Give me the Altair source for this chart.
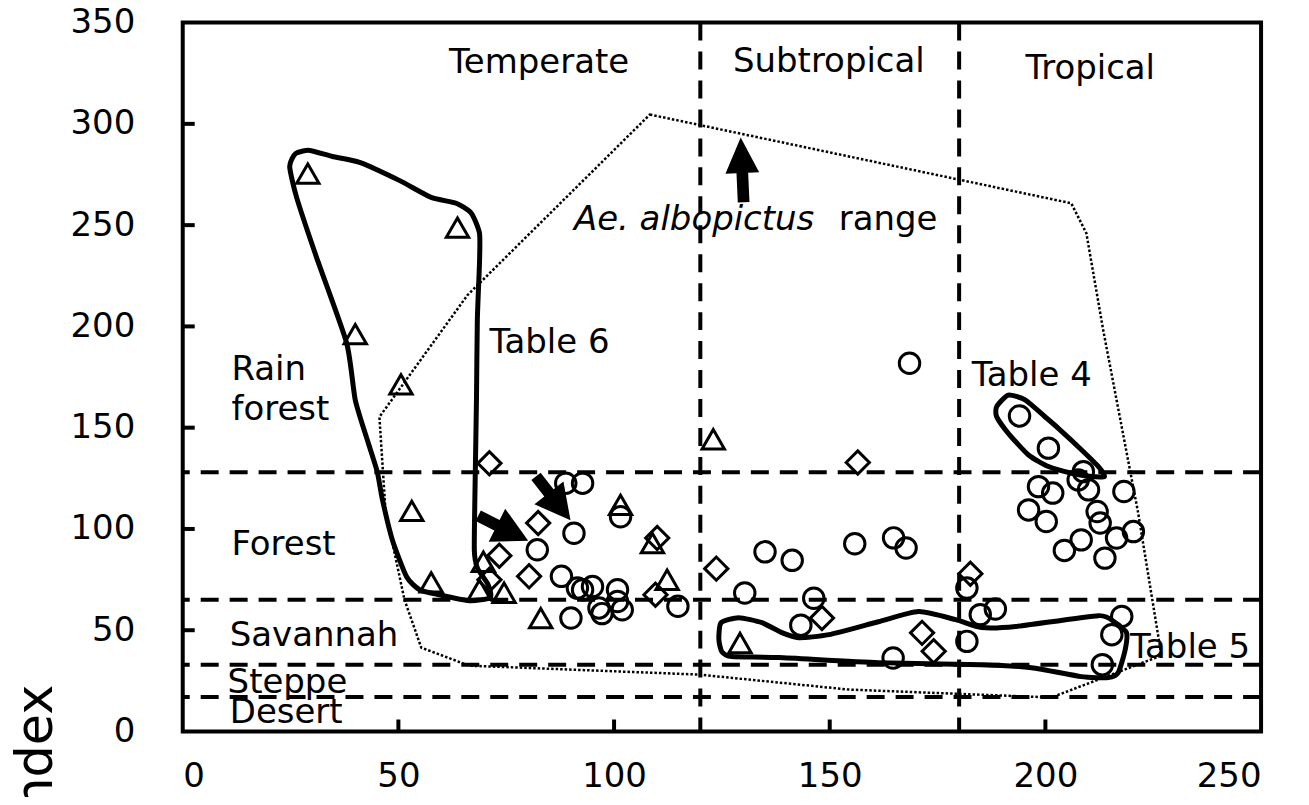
import altair as alt
import pandas as pd

FONT = "DejaVu Sans"

# axis ticks
x_ticks = [0, 50, 100, 150, 200, 250]
y_ticks = [0, 50, 100, 150, 200, 250, 300, 350]
inner_x_ticks = [50, 100, 150, 200]
inner_y_ticks = [50, 100, 150, 200, 250, 300]

# vegetation zone boundaries (horizontal) and climate boundaries (vertical)
zone_lines_y = [128, 65, 33, 17]
climate_lines_x = [120, 180]

# triangles
tri_x = [29.0, 63.7, 40.0, 50.6, 53.1, 57.6, 68.8, 69.7, 74.5, 101.5, 108.9, 112.3, 83.0, 123.0, 129.2]
tri_y = [275.4, 248.8, 196.2, 171.4, 108.9, 73.6, 70.0, 83.8, 68.5, 111.9, 93.0, 74.9, 56.0, 144.3, 43.7]

# diamonds
dia_x = [71.1, 82.4, 73.4, 71.1, 80.3, 110.0, 109.6, 156.5, 123.7, 148.2, 171.4, 174.1, 182.6]
dia_y = [132.4, 102.9, 86.8, 74.9, 76.6, 95.5, 67.5, 132.8, 80.4, 56.0, 48.7, 39.6, 77.9]

# circles
cir_x = [88.8, 92.7, 90.7, 82.2, 101.5, 87.8, 91.5, 95.0, 92.7, 100.8, 100.8, 96.5, 97.2, 101.9, 90.0,
         114.8, 130.3, 135.0, 141.3, 146.3, 143.3, 155.8, 164.8, 167.7, 164.7, 168.5,
         194.0, 200.7, 208.8, 207.6, 198.4, 201.7, 210.0, 218.2, 196.1, 200.2, 212.0, 212.7,
         208.3, 204.4, 216.5, 220.4, 213.8, 181.8, 184.9, 188.4, 181.8, 217.7, 215.4, 213.2]
cir_y = [122.6, 122.6, 97.9, 89.7, 106.0, 76.6, 70.8, 71.6, 70.0, 70.0, 64.2, 61.0, 58.2, 60.1, 56.0,
         61.8, 68.4, 88.7, 84.5, 65.8, 52.5, 92.7, 95.6, 90.6, 36.3, 181.8,
         155.8, 139.9, 128.3, 124.2, 120.9, 117.7, 119.3, 118.5, 109.4, 103.7, 108.6, 102.9,
         94.6, 89.4, 95.5, 98.7, 85.6, 70.8, 57.7, 60.5, 44.5, 56.8, 47.8, 33.0]

# Table 6 envelope
t6_x = [24.8, 26.2, 29.4, 34.7, 41.0, 50.2, 57.6, 63.4, 66.9, 68.8, 68.8, 68.3, 68.1, 67.8, 67.6,
        68.3, 70.8, 71.3, 66.4, 59.5, 54.9, 51.9, 48.6, 46.3, 45.1, 42.8, 40.0, 38.0, 31.0, 26.4]
t6_y = [279.0, 285.4, 286.9, 283.9, 281.0, 272.1, 263.7, 260.8, 255.9, 246.0, 231.2, 203.1, 163.7, 124.2, 89.7,
        80.8, 72.5, 66.1, 64.6, 67.5, 70.0, 76.4, 94.6, 114.4, 128.2, 143.9, 163.7, 191.8, 234.2, 263.7]

# Table 4 envelope
t4_x = [188.7, 191.4, 195.3, 199.9, 203.0, 208.4, 212.3, 213.7, 210.7, 206.1, 200.7, 196.1, 191.4, 188.7]
t4_y = [160.4, 166.1, 163.7, 155.4, 149.7, 139.0, 130.8, 125.9, 125.9, 127.5, 130.8, 136.5, 147.2, 155.4]

# Table 5 envelope
t5_x = [124.8, 128.9, 134.3, 138.9, 142.8, 149.8, 161.3, 170.6, 179.2, 185.2, 193.1, 212.3, 216.2, 218.8,
        218.5, 216.9, 214.6, 208.3, 196.8, 185.2, 161.3, 138.2, 127.3, 125.0, 124.3]
t5_y = [53.7, 56.2, 53.7, 48.8, 46.3, 47.8, 54.2, 59.2, 55.2, 51.3, 51.8, 57.2, 53.7, 48.8,
        40.4, 29.1, 26.6, 27.1, 31.5, 33.0, 34.0, 36.5, 37.0, 39.4, 45.4]

# Ae. albopictus range (dotted)
rng_x = [108.3, 206.0, 209.5, 213.4, 221.5, 226.9, 201.4, 154.4, 119.7, 66.4, 55.3, 51.4, 47.0, 45.6, 66.0]
rng_y = [304.6, 260.8, 246.0, 198.2, 108.0, 37.5, 16.8, 20.7, 28.1, 32.5, 41.4, 65.1, 109.4, 155.3, 215.4]

# arrows (midpoint, direction in degrees clockwise from up)
arrow_big_x = [129.7]
arrow_big_y = [277.3]
arrow_big_dir = [357.4]
arrow_small_x = [74.3, 85.9]
arrow_small_y = [100.3, 115.1]
arrow_small_dir = [116.6, 141.9]

# labels
center_labels = ["Temperate", "Subtropical", "Tropical"]
center_x = [82.6, 149.8, 210.4]
center_y = [329.8, 330.3, 327.3]

left_labels = ["range", "Table 6", "Rain", "forest", "Forest", "Savannah", "Steppe", "Desert", "Table 4", "Table 5"]
left_x = [152.1, 71.1, 11.3, 11.3, 11.3, 10.9, 10.4, 10.9, 182.9, 219.6]
left_y = [252.4, 191.8, 178.4, 158.7, 92.2, 47.3, 23.7, 8.9, 175.5, 41.4]

italic_labels = ["Ae. albopictus"]
italic_x = [90.7]
italic_y = [252.4]

y_title = "Index"

# ---------------------------------------------------------------
xs = alt.Scale(domain=[0, 250], nice=False, zero=False)
ys = alt.Scale(domain=[0, 350], nice=False, zero=False)
X = alt.X("x:Q", scale=xs, axis=alt.Axis(values=x_ticks, title=None))
Y = alt.Y("y:Q", scale=ys, axis=alt.Axis(values=y_ticks, title=None))


def pts(xv, yv):
    return pd.DataFrame({"x": xv, "y": yv})


def path(xv, yv):
    return pd.DataFrame({"x": xv, "y": yv, "i": list(range(len(xv)))})


hlines = alt.Chart(pd.DataFrame({"y": zone_lines_y})).mark_rule(
    color="black", strokeWidth=4, strokeDash=[18, 11]
).encode(y=Y)

vlines = alt.Chart(pd.DataFrame({"x": climate_lines_x})).mark_rule(
    color="black", strokeWidth=4, strokeDash=[18, 11]
).encode(x=X)

yt = alt.Chart(pd.DataFrame({"y": inner_y_ticks})).mark_rule(color="black", strokeWidth=4).encode(
    y=Y, x=alt.value(0), x2=alt.value(12)
)
xt = alt.Chart(pd.DataFrame({"x": inner_x_ticks})).mark_rule(color="black", strokeWidth=4).encode(
    x=X, y=alt.value(710), y2=alt.value(698)
)

rng = alt.Chart(path(rng_x, rng_y)).mark_line(
    color="black", strokeWidth=2.5, strokeDash=[2.5, 2], interpolate="linear-closed"
).encode(x=X, y=Y, order="i:Q")


def loop(xv, yv):
    return alt.Chart(path(xv, yv)).mark_line(
        color="black", strokeWidth=5, interpolate="cardinal-closed", tension=0.4
    ).encode(x=X, y=Y, order="i:Q")


circles = alt.Chart(pts(cir_x, cir_y)).mark_point(
    shape="circle", filled=False, size=420, strokeWidth=3, color="black", opacity=1
).encode(x=X, y=Y)
tris = alt.Chart(pts(tri_x, tri_y)).mark_point(
    shape="triangle-up", filled=False, size=500, strokeWidth=3, color="black", opacity=1
).encode(x=X, y=Y)
dias = alt.Chart(pts(dia_x, dia_y)).mark_point(
    shape="diamond", filled=False, size=540, strokeWidth=3, color="black", opacity=1
).encode(x=X, y=Y)

ARROW_BIG = "M0,-1L0.52,0.1L0.18,0.1L0.18,1L-0.18,1L-0.18,0.1L-0.52,0.1Z"
ARROW_SMALL = "M0,-1L0.66,0.25L0.21,0.25L0.21,1L-0.21,1L-0.21,0.25L-0.66,0.25Z"
arrow_big = alt.Chart(pd.DataFrame({"x": arrow_big_x, "y": arrow_big_y, "a": arrow_big_dir})).mark_point(
    shape=ARROW_BIG, filled=True, size=4225, color="black", opacity=1, strokeWidth=0
).encode(x=X, y=Y, angle=alt.Angle("a:Q", scale=None))
arrow_small = alt.Chart(pd.DataFrame({"x": arrow_small_x, "y": arrow_small_y, "a": arrow_small_dir})).mark_point(
    shape=ARROW_SMALL, filled=True, size=3136, color="black", opacity=1, strokeWidth=0
).encode(x=X, y=Y, angle=alt.Angle("a:Q", scale=None))

txt_c = alt.Chart(pd.DataFrame({"x": center_x, "y": center_y, "t": center_labels})).mark_text(
    font=FONT, fontSize=34, align="center", baseline="middle", color="black"
).encode(x=X, y=Y, text="t:N")
txt_l = alt.Chart(pd.DataFrame({"x": left_x, "y": left_y, "t": left_labels})).mark_text(
    font=FONT, fontSize=34, align="left", baseline="middle", color="black"
).encode(x=X, y=Y, text="t:N")
txt_i = alt.Chart(pd.DataFrame({"x": italic_x, "y": italic_y, "t": italic_labels})).mark_text(
    font=FONT, fontSize=34, fontStyle="italic", align="left", baseline="middle", color="black"
).encode(x=X, y=Y, text="t:N")

ytitle = alt.Chart(pd.DataFrame({"t": [y_title]})).mark_text(
    font=FONT, fontSize=51, angle=270, align="right", baseline="alphabetic", color="black"
).encode(x=alt.value(-131), y=alt.value(663), text="t:N")

chart = alt.layer(
    hlines, vlines, rng, loop(t6_x, t6_y), loop(t4_x, t4_y), loop(t5_x, t5_y),
    circles, tris, dias, arrow_big, arrow_small, yt, xt, txt_c, txt_l, txt_i, ytitle
).properties(
    width=1080, height=710,
    autosize=alt.AutoSizeParams(type="none"),
    padding={"left": 175, "top": 14, "right": 40, "bottom": 65},
    background="white",
).configure_view(
    stroke="black", strokeWidth=4
).configure_axis(
    domain=False, ticks=False, grid=False,
    labelFont=FONT, labelFontSize=34, labelColor="black",
).configure_axisX(labelPadding=28).configure_axisY(labelPadding=48)

chart.save("out.html", embed_options={"renderer": "svg", "actions": False})
